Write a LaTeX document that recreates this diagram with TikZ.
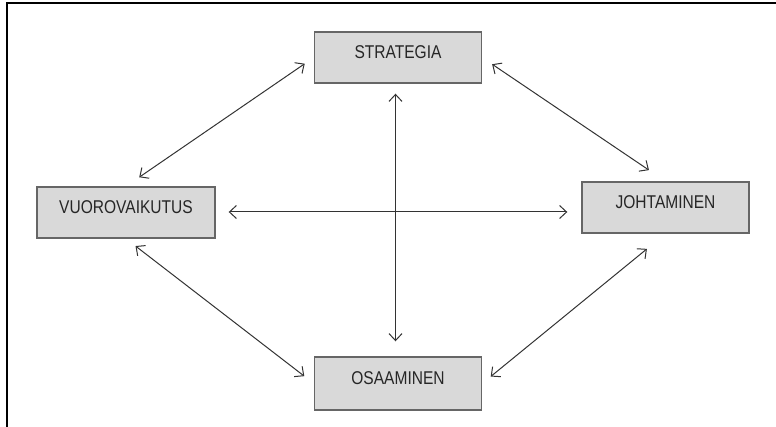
\documentclass[tikz,border=0pt]{standalone}
\usepackage{fontspec}
\setmainfont{Liberation Sans}
\usetikzlibrary{arrows.meta}
% labels sit a little above the middle of their boxes
\newcommand{\boxlabel}[1]{\raisebox{-1.1pt}[0pt][0pt]{\scalebox{0.84}[1]{#1}}}
\begin{document}
\begin{tikzpicture}[x=1pt,y=-1pt,
  topic/.style={draw=black!60, line width=1.4pt, fill=black!15,
    minimum width=167pt, minimum height=51pt, inner sep=0pt,
    font=\fontsize{18.5}{21}\selectfont, text=black!85},
  link/.style={draw=black!80, line width=1pt,
    {Straight Barb[length=7pt,width=13pt,line width=1pt]}-{Straight Barb[length=7pt,width=13pt,line width=1pt]}}]
  \useasboundingbox (0,0) rectangle (776,427);
  % frame edges
  \draw[line width=2pt] (7,427) -- (7,3) -- (776,3);
  % topics
  \node[topic] (s) at (398,57.5)  {\boxlabel{STRATEGIA}};
  \node[topic, minimum width=178pt] (v) at (126,212.5) {\boxlabel{VUOROVAIKUTUS}};
  \node[topic] (j) at (665.5,207.5) {\boxlabel{JOHTAMINEN}};
  \node[topic, minimum height=53pt] (o) at (398,383.5) {\boxlabel{OSAAMINEN}};
  % connectors
  \draw[link, shorten <=11pt, shorten >=16pt] (s.west) -- (v.north);
  \draw[link, shorten <=12pt, shorten >=20pt] (s.east) -- (j.north);
  \draw[link, shorten <=10pt, shorten >=15pt] ([xshift=-2.5pt]s.south) -- ([xshift=-2.5pt]o.north);
  \draw[link, shorten <=13pt, shorten >=14pt] ([yshift=0.5pt]v.east) -- ([yshift=0.5pt]v.east -| j.west);
  \draw[link, shorten <=12pt, shorten >=12pt] (v.south) -- (o.west);
  \draw[link, shorten <=24pt, shorten >=11pt] (j.south) -- (o.east);
\end{tikzpicture}
\end{document}
